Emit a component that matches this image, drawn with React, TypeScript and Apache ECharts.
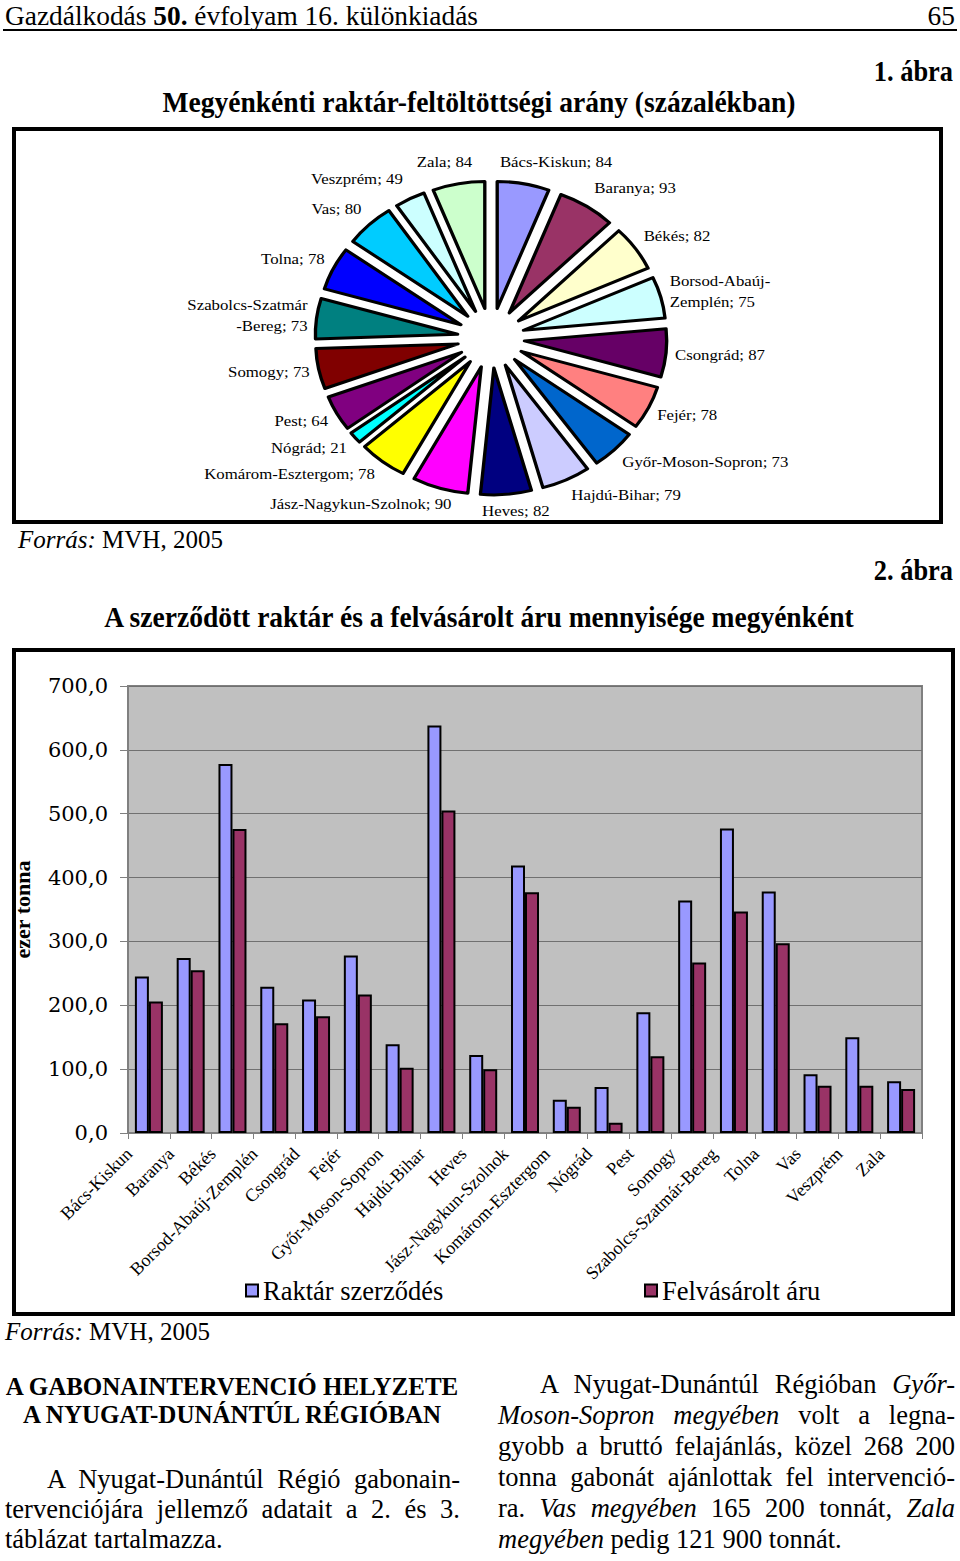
import React, { useEffect, useRef } from "react";
import * as echarts from "echarts";

const SERIF = "'Liberation Serif', 'Times New Roman', serif";
const WIDE_SERIF = "'DejaVu Serif', 'Liberation Serif', serif";

// ---- Figure 1 data (pie) ----
const pieNames = [
  "Bács-Kiskun", "Baranya", "Békés", "Borsod-Abaúj-Zemplén", "Csongrád", "Fejér",
  "Győr-Moson-Sopron", "Hajdú-Bihar", "Heves", "Jász-Nagykun-Szolnok", "Komárom-Esztergom",
  "Nógrád", "Pest", "Somogy", "Szabolcs-Szatmár-Bereg", "Tolna", "Vas", "Veszprém", "Zala",
];
const pieValues = [84, 93, 82, 75, 87, 78, 73, 79, 82, 90, 78, 21, 64, 73, 73, 78, 80, 49, 84];
const pieColors = [
  "#9999FF", "#993366", "#FFFFCC", "#CCFFFF", "#660066", "#FF8080", "#0066CC", "#CCCCFF",
  "#000080", "#FF00FF", "#FFFF00", "#00FFFF", "#800080", "#800000", "#008080", "#0000FF",
  "#00CCFF", "#CCFFFF", "#CCFFCC",
];
const pieLabelNames: Record<string, string> = {
  "Borsod-Abaúj-Zemplén": "Borsod-Abaúj-\nZemplén",
  "Szabolcs-Szatmár-Bereg": "Szabolcs-Szatmár\n-Bereg",
};

// ---- Figure 2 data (bars) ----
const barCategories = [
  "Bács-Kiskun", "Baranya", "Békés", "Borsod-Abaúj-Zemplén", "Csongrád", "Fejér",
  "Győr-Moson-Sopron", "Hajdú-Bihar", "Heves", "Jász-Nagykun-Szolnok", "Komárom-Esztergom",
  "Nógrád", "Pest", "Somogy", "Szabolcs-Szatmár-Bereg", "Tolna", "Vas", "Veszprém", "Zala",
];
const raktarSzerzodes = [245, 274, 578, 229, 209, 278, 139, 638, 122, 419, 52, 72, 189, 364, 477, 378, 92, 150, 81];
const felvasaroltAru = [206, 255, 476, 172, 183, 217, 102, 505, 100, 377, 41, 16, 120, 267, 347, 297, 74, 74, 69];
const seriesNames = ["Raktár szerződés", "Felvásárolt áru"];

const PIE_SX = 1.12;

const base: React.CSSProperties = {
  position: "absolute",
  fontFamily: SERIF,
  color: "#000",
  whiteSpace: "nowrap",
  lineHeight: 1,
  margin: 0,
};

function top(baseline: number, fs: number) {
  return baseline - 0.8375 * fs;
}

const PARA_FS = 26.5;

function Just({ left, width, baseline, indent = 0, last = false, children }: any) {
  return (
    <div
      style={{
        ...base,
        left,
        width,
        top: top(baseline, PARA_FS),
        fontSize: PARA_FS,
        whiteSpace: "normal",
        textAlign: last ? "left" : "justify",
        textAlignLast: last ? "left" : "justify",
        paddingLeft: indent,
        boxSizing: "border-box",
      } as React.CSSProperties}
    >
      {children}
    </div>
  );
}

export default function App() {
  const pieRef = useRef<HTMLDivElement>(null);
  const barRef = useRef<HTMLDivElement>(null);

  useEffect(() => {
    const total = pieValues.reduce((a, b) => a + b, 0);
    const midAngles: number[] = [];
    let acc = 0;
    pieValues.forEach((v) => {
      midAngles.push(((acc + v / 2) / total) * Math.PI * 2);
      acc += v;
    });

    const pie = echarts.init(pieRef.current!, null, { renderer: "svg" });
    pie.setOption({
      animation: false,
      series: [
        {
          type: "pie",
          center: [(491 - 16) / PIE_SX, 338 - 131],
          radius: [0, 127],
          startAngle: 90,
          clockwise: true,
          selectedMode: "multiple",
          selectedOffset: 30,
          avoidLabelOverlap: false,
          labelLayout: (p: any) => {
            const a = midAngles[p.dataIndex];
            const s = Math.sin(a);
            const c = Math.cos(a);
            const upper = c > 0;
            const k = upper ? (s > 0 ? 45 : 30) : s > 0 ? 33 : 45;
            const pull = k * Math.max(0, 1 - Math.abs(s) / 0.45);
            return {
              hideOverlap: false,
              dx: -Math.sign(s) * pull,
              dy: -(upper ? 19 : 13) * c,
            };
          },
          itemStyle: { borderColor: "#000", borderWidth: 3 },
          select: { itemStyle: { borderColor: "#000", borderWidth: 3 } },
          emphasis: { disabled: true },
          label: {
            show: true,
            position: "outside",
            fontFamily: SERIF,
            fontSize: 15,
            color: "#000",
            lineHeight: 21,
            formatter: (p: any) => `${pieLabelNames[p.name] ?? p.name}; ${p.value}`,
          },
          labelLine: { show: false, length: 3, length2: 0 },
          data: pieValues.map((v, i) => ({
            value: v,
            name: pieNames[i],
            selected: true,
            itemStyle: { color: pieColors[i] },
          })),
        },
      ],
    });

    const bar = echarts.init(barRef.current!, null, { renderer: "svg" });
    const legendText = { fontFamily: SERIF, fontSize: 26.5, color: "#000" };
    bar.setOption({
      animation: false,
      grid: {
        left: 128,
        right: 38,
        top: 38,
        bottom: 183,
        show: true,
        backgroundColor: "#C0C0C0",
        borderColor: "#808080",
        borderWidth: 2,
      },
      legend: [
        {
          data: [seriesNames[0]],
          left: 240,
          top: 624,
          icon: "rect",
          itemWidth: 12,
          itemHeight: 12,
          textStyle: legendText,
        },
        {
          data: [seriesNames[1]],
          left: 639,
          top: 624,
          icon: "rect",
          itemWidth: 12,
          itemHeight: 12,
          textStyle: legendText,
        },
      ],
      xAxis: {
        type: "category",
        data: barCategories,
        axisLine: { lineStyle: { color: "#808080", width: 2 } },
        axisTick: { show: true, length: 6, lineStyle: { color: "#808080" } },
        axisLabel: {
          interval: 0,
          rotate: 45,
          fontFamily: SERIF,
          fontSize: 18,
          color: "#000",
          margin: -2,
          padding: [0, 28, 0, 0],
        },
      },
      yAxis: {
        type: "value",
        min: 0,
        max: 700,
        interval: 100,
        name: "ezer tonna",
        nameLocation: "middle",
        nameGap: 95,
        nameRotate: 90,
        nameTextStyle: { fontFamily: SERIF, fontWeight: "bold", fontSize: 22, color: "#000" },
        axisLine: { show: true, lineStyle: { color: "#808080" } },
        axisTick: { show: true, length: 8, lineStyle: { color: "#808080" } },
        axisLabel: {
          formatter: (v: number) => v.toFixed(1).replace(".", ","),
          fontFamily: WIDE_SERIF,
          fontSize: 21,
          color: "#000",
          margin: 20,
        },
        splitLine: { lineStyle: { color: "#707070", width: 1 } },
      },
      series: [
        {
          type: "bar",
          name: seriesNames[0],
          data: raktarSzerzodes,
          barWidth: 14,
          barGap: "0%",
          itemStyle: { color: "#9999FF", borderColor: "#000", borderWidth: 2 },
        },
        {
          type: "bar",
          name: seriesNames[1],
          data: felvasaroltAru,
          barWidth: 14,
          barGap: "0%",
          itemStyle: { color: "#993366", borderColor: "#000", borderWidth: 2 },
        },
      ],
    });

    return () => {
      pie.dispose();
      bar.dispose();
    };
  }, []);

  return (
    <div style={{ position: "absolute", left: 0, top: 0, width: 960, height: 1561, background: "#fff", overflow: "hidden" }}>
      {/* Header */}
      <div style={{ ...base, left: 5, top: top(25.5, 28), fontSize: 28, transform: "scaleX(0.978)", transformOrigin: "left top" }}>
        Gazdálkodás <b>50.</b> évfolyam 16. különkiadás
      </div>
      <div style={{ ...base, right: 5, top: top(25.5, 28), fontSize: 28, transform: "scaleX(0.978)", transformOrigin: "right top" }}>
        65
      </div>
      <div style={{ position: "absolute", left: 3, top: 29, width: 954, height: 2, background: "#000" }} />

      <div style={{ ...base, right: 7, top: top(81, 30), fontSize: 30, fontWeight: "bold", transform: "scaleX(0.88)", transformOrigin: "right top" }}>
        1. ábra
      </div>
      <div style={{ ...base, left: 479, top: top(112, 30), fontSize: 30, fontWeight: "bold", transform: "translateX(-50%) scaleX(0.918)", transformOrigin: "center top" }}>
        Megyénkénti raktár-feltöltöttségi arány (százalékban)
      </div>

      {/* Pie frame + chart */}
      <div style={{ position: "absolute", left: 12, top: 127, width: 931, height: 397, border: "4px solid #000", boxSizing: "border-box" }} />
      <div
        ref={pieRef}
        style={{
          position: "absolute",
          left: 16,
          top: 131,
          width: Math.round(923 / PIE_SX),
          height: 389,
          transform: `scaleX(${PIE_SX})`,
          transformOrigin: "left top",
        }}
      />

      <div style={{ ...base, left: 18, top: top(548, 25), fontSize: 25 }}>
        <i>Forrás:</i> MVH, 2005
      </div>

      <div style={{ ...base, right: 7, top: top(580, 30), fontSize: 30, fontWeight: "bold", transform: "scaleX(0.88)", transformOrigin: "right top" }}>
        2. ábra
      </div>
      <div style={{ ...base, left: 479, top: top(627, 30), fontSize: 30, fontWeight: "bold", transform: "translateX(-50%) scaleX(0.917)", transformOrigin: "center top" }}>
        A szerződött raktár és a felvásárolt áru mennyisége megyénként
      </div>

      {/* Bar frame + chart */}
      <div style={{ position: "absolute", left: 12, top: 648, width: 943, height: 668, border: "4px solid #000", boxSizing: "border-box" }} />
      <div ref={barRef} style={{ position: "absolute", left: 0, top: 648, width: 960, height: 668 }} />

      <div style={{ ...base, left: 5, top: top(1340, 25), fontSize: 25 }}>
        <i>Forrás:</i> MVH, 2005
      </div>

      {/* Bottom text, left column */}
      <div style={{ ...base, left: 232, top: top(1395, 25), fontSize: 25, fontWeight: "bold", transform: "translateX(-50%)" }}>
        A GABONAINTERVENCIÓ HELYZETE
      </div>
      <div style={{ ...base, left: 232, top: top(1423, 25), fontSize: 25, fontWeight: "bold", transform: "translateX(-50%)" }}>
        A NYUGAT-DUNÁNTÚL RÉGIÓBAN
      </div>
      <Just left={5} width={455} baseline={1488} indent={42}>A Nyugat-Dunántúl Régió gabonain-</Just>
      <Just left={5} width={455} baseline={1518}>tervenciójára jellemző adatait a 2. és 3.</Just>
      <Just left={5} width={455} baseline={1548} last>táblázat tartalmazza.</Just>

      {/* Bottom text, right column */}
      <Just left={498} width={457} baseline={1393} indent={42}>
        A Nyugat-Dunántúl Régióban <i>Győr-</i>
      </Just>
      <Just left={498} width={457} baseline={1424}>
        <i>Moson-Sopron megyében</i> volt a legna-
      </Just>
      <Just left={498} width={457} baseline={1455}>gyobb a bruttó felajánlás, közel 268 200</Just>
      <Just left={498} width={457} baseline={1486}>tonna gabonát ajánlottak fel intervenció-</Just>
      <Just left={498} width={457} baseline={1517}>
        ra. <i>Vas megyében</i> 165 200 tonnát, <i>Zala</i>
      </Just>
      <Just left={498} width={457} baseline={1548} last>
        <i>megyében</i> pedig 121 900 tonnát.
      </Just>
    </div>
  );
}
